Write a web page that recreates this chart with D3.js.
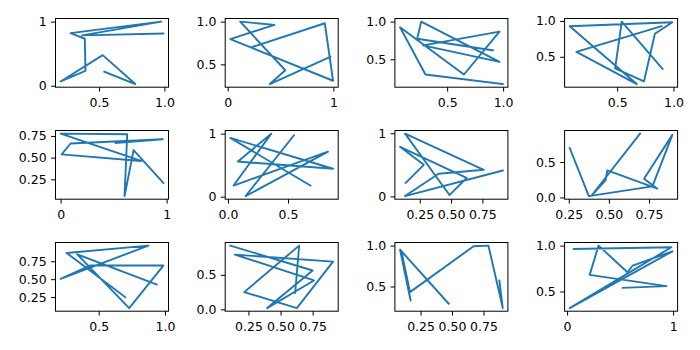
<!DOCTYPE html>
<html>
<head>
<meta charset="utf-8">
<script src="https://cdn.jsdelivr.net/npm/d3@7"></script>
<style>
  html, body { margin: 0; padding: 0; background: #fff; }
  svg { display: block; }
</style>
</head>
<body>
<div id="chart"></div>
<script>
// Twelve random walks, one per panel, read row by row.
const x1 = [0.54, 0.777, 0.528, 0.206, 0.396, 0.391, 0.282, 0.975, 0.37, 0.992];
const y1 = [0.22, 0.026, 0.477, 0.067, 0.231, 0.733, 0.82, 1.0, 0.785, 0.815];
const x2 = [0.234, 0.919, 0.997, 0.025, 0.442, 0.118, 0.545, 0.399, 0.972];
const y2 = [0.704, 0.981, 0.308, 0.796, 0.962, 1.0, 0.431, 0.269, 0.588];
const x3 = [0.997, 0.306, 0.079, 0.65, 0.968, 0.285, 0.968, 0.268, 0.232, 0.909];
const y3 = [0.171, 0.298, 0.925, 0.298, 0.868, 0.684, 0.465, 1.0, 0.772, 0.618];
const x4 = [0.903, 0.541, 0.482, 0.738, 0.835, 0.991, 0.079, 0.674, 0.138, 0.894];
const y4 = [0.33, 0.991, 0.339, 0.156, 0.821, 0.982, 0.927, 0.119, 0.569, 0.927];

const x5 = [0.519, 0.963, 0.094, 0.009, 0.759, 0.0, 0.628, 0.603, 0.688, 0.969];
const y5 = [0.67, 0.712, 0.663, 0.538, 0.462, 0.777, 0.769, 0.057, 0.587, 0.208];
const x6 = [0.55, 0.147, 0.833, 0.047, 0.361, 0.083, 0.875, 0.02, 0.686];
const y6 = [0.974, 0.01, 0.714, 0.177, 1.0, 0.557, 0.443, 0.932, 0.177];
const x7 = [0.137, 0.282, 0.092, 0.624, 0.487, 0.132, 0.761, 0.4, 0.132, 0.913];
const y7 = [0.214, 0.5, 0.786, 0.292, 0.021, 0.995, 0.422, 0.359, 0.005, 0.411];
const x8 = [0.256, 0.375, 0.771, 0.896, 0.719, 0.802, 0.49, 0.479, 0.396, 0.694];
const y8 = [0.698, 0.019, 0.156, 0.887, 0.264, 0.123, 0.382, 0.241, 0.038, 0.901];

const x9 = [0.7, 0.258, 0.875, 0.213, 0.433, 0.988, 0.73, 0.338, 0.938];
const y9 = [0.25, 0.866, 0.968, 0.505, 0.69, 0.69, 0.097, 0.847, 0.426];
const x10 = [0.109, 0.75, 0.396, 0.76, 0.145, 0.909, 0.627, 0.217, 0.645, 0.614];
const y10 = [0.923, 0.563, 0.019, 0.419, 0.793, 0.692, 0.019, 0.25, 0.923, 0.24];
const x11 = [0.474, 0.087, 0.171, 0.097, 0.166, 0.671, 0.789, 0.903, 0.876];
const y11 = [0.289, 0.951, 0.329, 0.939, 0.431, 0.992, 1.0, 0.236, 0.573];
const x12 = [0.063, 0.984, 0.025, 0.994, 0.619, 0.569, 0.297, 0.213, 0.938, 0.525];
const y12 = [0.964, 0.982, 0.319, 0.938, 0.783, 0.71, 1.0, 0.681, 0.558, 0.54];

// Tick labels shown on each panel's axes.
const xTicks1 = ["0.5", "1.0"], yTicks1 = ["0", "1"];
const xTicks2 = ["0", "1"], yTicks2 = ["0.5", "1.0"];
const xTicks3 = ["0.5", "1.0"], yTicks3 = ["0.5", "1.0"];
const xTicks4 = ["0.5", "1.0"], yTicks4 = ["0.5", "1.0"];
const xTicks5 = ["0", "1"], yTicks5 = ["0.25", "0.50", "0.75"];
const xTicks6 = ["0.0", "0.5"], yTicks6 = ["0", "1"];
const xTicks7 = ["0.25", "0.50", "0.75"], yTicks7 = ["0", "1"];
const xTicks8 = ["0.25", "0.50", "0.75"], yTicks8 = ["0.0", "0.5"];
const xTicks9 = ["0.5", "1.0"], yTicks9 = ["0.25", "0.50", "0.75"];
const xTicks10 = ["0.25", "0.50", "0.75"], yTicks10 = ["0.0", "0.5"];
const xTicks11 = ["0.25", "0.50", "0.75"], yTicks11 = ["0.5", "1.0"];
const xTicks12 = ["0", "1"], yTicks12 = ["0.5", "1.0"];

const panels = [
  [x1, y1, xTicks1, yTicks1], [x2, y2, xTicks2, yTicks2], [x3, y3, xTicks3, yTicks3], [x4, y4, xTicks4, yTicks4],
  [x5, y5, xTicks5, yTicks5], [x6, y6, xTicks6, yTicks6], [x7, y7, xTicks7, yTicks7], [x8, y8, xTicks8, yTicks8],
  [x9, y9, xTicks9, yTicks9], [x10, y10, xTicks10, yTicks10], [x11, y11, xTicks11, yTicks11], [x12, y12, xTicks12, yTicks12]
];

const W = 700, H = 350;
const axW = 113, axH = 68.7;
const left0 = 55.5, colStep = 169.7;
const top0 = 18.5, rowStep = 112;
const FONT = "'DejaVu Sans', sans-serif";
const fontSize = 12.5;
const tickLen = 4.4, tickPad = 4.4;
const lineColor = "#1f77b4";

const svg = d3.select("#chart").append("svg")
  .attr("width", W).attr("height", H)
  .style("background", "#fff");

// Autoscale with a 5% margin on either side of the data.
function padded(vals) {
  const [lo, hi] = d3.extent(vals);
  const m = (hi - lo) * 0.05;
  return [lo - m, hi + m];
}

panels.forEach(([xs, ys, xt, yt], i) => {
  const col = i % 4, row = Math.floor(i / 4);
  const ox = left0 + col * colStep;
  const oy = top0 + row * rowStep;

  const x = d3.scaleLinear().domain(padded(xs)).range([0, axW]);
  const y = d3.scaleLinear().domain(padded(ys)).range([axH, 0]);

  const g = svg.append("g").attr("transform", `translate(${ox},${oy})`);

  const pts = xs.map((v, k) => [v, ys[k]]);
  g.append("path")
    .datum(pts)
    .attr("fill", "none")
    .attr("stroke", lineColor)
    .attr("stroke-width", 1.9)
    .attr("stroke-linejoin", "round")
    .attr("stroke-linecap", "square")
    .attr("d", d3.line().x(d => x(d[0])).y(d => y(d[1])));

  const xAxis = d3.axisBottom(x)
    .tickValues(xt.map(Number))
    .tickFormat((d, k) => xt[k])
    .tickSize(tickLen).tickPadding(tickPad);
  const yAxis = d3.axisLeft(y)
    .tickValues(yt.map(Number))
    .tickFormat((d, k) => yt[k])
    .tickSize(tickLen).tickPadding(tickPad);

  const gx = g.append("g").attr("transform", `translate(0,${axH})`).call(xAxis);
  const gy = g.append("g").call(yAxis);

  [gx, gy].forEach(a => {
    a.select(".domain").remove();
    a.selectAll(".tick line").attr("stroke", "#000").attr("stroke-width", 1);
    a.selectAll(".tick text")
      .attr("fill", "#000")
      .style("font-family", FONT)
      .style("font-size", fontSize + "px");
  });
  gx.selectAll(".tick text").attr("dy", "0.85em");

  g.append("rect")
    .attr("x", 0).attr("y", 0)
    .attr("width", axW).attr("height", axH)
    .attr("fill", "none")
    .attr("stroke", "#000")
    .attr("stroke-width", 1);
});
</script>
</body>
</html>
